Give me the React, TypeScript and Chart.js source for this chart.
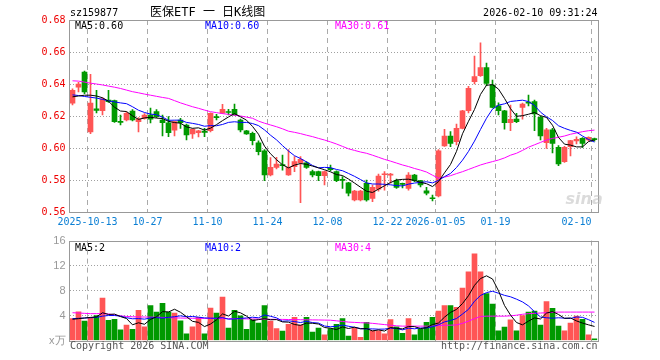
import React, { useEffect, useRef } from "react";
import { Chart, registerables } from "chart.js";
Chart.register(...registerables);

const DATES = [
  "2025-09-30","2025-10-09","2025-10-10","2025-10-13","2025-10-14","2025-10-15","2025-10-16","2025-10-17","2025-10-20","2025-10-21",
  "2025-10-22","2025-10-23","2025-10-24","2025-10-27","2025-10-28","2025-10-29","2025-10-30","2025-10-31","2025-11-03","2025-11-04",
  "2025-11-05","2025-11-06","2025-11-07","2025-11-10","2025-11-11","2025-11-12","2025-11-13","2025-11-14","2025-11-17","2025-11-18",
  "2025-11-19","2025-11-20","2025-11-21","2025-11-24","2025-11-25","2025-11-26","2025-11-27","2025-11-28","2025-12-01","2025-12-02",
  "2025-12-03","2025-12-04","2025-12-05","2025-12-08","2025-12-09","2025-12-10","2025-12-11","2025-12-12","2025-12-15","2025-12-16",
  "2025-12-17","2025-12-18","2025-12-19","2025-12-22","2025-12-23","2025-12-24","2025-12-25","2025-12-26","2025-12-29","2025-12-30",
  "2025-12-31","2026-01-05","2026-01-06","2026-01-07","2026-01-08","2026-01-09","2026-01-12","2026-01-13","2026-01-14","2026-01-15",
  "2026-01-16","2026-01-19","2026-01-20","2026-01-21","2026-01-22","2026-01-23","2026-01-26","2026-01-27","2026-01-28","2026-01-29",
  "2026-01-30","2026-02-02","2026-02-03","2026-02-04","2026-02-05","2026-02-06","2026-02-09","2026-02-10"
];

const TICK_DATES = ["2025-10-13","2025-10-27","2025-11-10","2025-11-24","2025-12-08","2025-12-22","2026-01-05","2026-01-19","2026-02-10"];
const TICK_TEXT = ["2025-10-13","10-27","11-10","11-24","12-08","12-22","2026-01-05","01-19","02-10"];
const PRICE_TICKS = [0.56, 0.58, 0.60, 0.62, 0.64, 0.66, 0.68];
const VOL_TICKS = [0, 4, 8, 12, 16];

const OPEN = [0.628,0.638,0.6475,0.610,0.6245,0.6233,0.630,0.6296,0.6163,0.6175,
0.623,0.6165,0.6185,0.6206,0.6227,0.6175,0.6158,0.6112,0.6175,0.6144,
0.6088,0.6096,0.6105,0.6108,0.6195,0.6217,0.6225,0.6242,0.6175,0.6108,
0.6092,0.6033,0.5983,0.5831,0.5879,0.5895,0.5831,0.5883,0.5908,0.5908,
0.5852,0.5852,0.5827,0.5873,0.5852,0.5802,0.5783,0.5675,0.5675,0.5779,
0.5685,0.5742,0.5833,0.583,0.5796,0.5777,0.5748,0.5831,0.5796,0.5733,
0.5687,0.570,0.6013,0.6075,0.604,0.6123,0.6233,0.6415,0.6452,0.6502,
0.6394,0.6263,0.6233,0.6158,0.618,0.6254,0.6285,0.629,0.6192,0.6033,
0.6113,0.6004,0.5915,0.6008,0.6044,0.606,0.605,0.6056];

const HIGH = [0.637,0.641,0.648,0.646,0.636,0.6314,0.636,0.630,0.6206,0.6225,
0.624,0.619,0.6215,0.625,0.624,0.6206,0.6196,0.6168,0.6186,0.615,
0.612,0.611,0.6123,0.622,0.621,0.6273,0.6242,0.6275,0.618,0.611,
0.610,0.6045,0.599,0.594,0.5942,0.5956,0.599,0.5946,0.5946,0.5915,
0.5862,0.5856,0.5856,0.5893,0.5858,0.5821,0.5786,0.5735,0.5735,0.580,
0.5769,0.5837,0.5852,0.5842,0.5805,0.578,0.5846,0.5835,0.5798,0.5754,
0.5706,0.599,0.6117,0.6102,0.615,0.6235,0.6385,0.6575,0.6658,0.653,
0.6425,0.6283,0.6235,0.6269,0.6217,0.628,0.6331,0.630,0.620,0.6123,
0.6123,0.6015,0.601,0.6048,0.607,0.6065,0.607,0.6062];

const LOW = [0.627,0.635,0.634,0.609,0.622,0.6206,0.6285,0.616,0.6144,0.617,
0.617,0.610,0.618,0.6156,0.619,0.6075,0.6071,0.6075,0.6123,0.605,
0.606,0.607,0.6071,0.610,0.6175,0.6215,0.6206,0.6205,0.610,0.6085,
0.602,0.5956,0.5796,0.5825,0.587,0.5862,0.5828,0.5852,0.5658,0.5873,
0.5819,0.5796,0.5769,0.5856,0.579,0.5748,0.570,0.567,0.567,0.5668,
0.5665,0.573,0.5737,0.578,0.5748,0.575,0.5737,0.579,0.5756,0.5706,
0.5669,0.5695,0.601,0.6008,0.6019,0.612,0.622,0.640,0.6448,0.639,
0.625,0.6206,0.6117,0.6108,0.6158,0.618,0.6263,0.6108,0.605,0.5998,
0.597,0.589,0.591,0.595,0.6025,0.6004,0.6045,0.6043];

const CLOSE = [0.636,0.640,0.635,0.628,0.6235,0.6306,0.629,0.6165,0.616,0.6217,
0.6175,0.618,0.6206,0.618,0.6196,0.6158,0.6096,0.6165,0.6158,0.6081,
0.6117,0.6108,0.6097,0.6217,0.619,0.6242,0.6222,0.6206,0.6113,0.6088,
0.6046,0.5977,0.5831,0.5879,0.590,0.589,0.5879,0.5915,0.5929,0.5879,
0.5831,0.5827,0.5852,0.5865,0.5796,0.5798,0.5717,0.5731,0.5731,0.5675,
0.5754,0.5825,0.5836,0.5832,0.5754,0.5773,0.5831,0.5796,0.5769,0.5717,
0.5683,0.5983,0.6075,0.6029,0.6123,0.6233,0.6373,0.6446,0.6502,0.6404,
0.6254,0.6233,0.6158,0.6179,0.6165,0.6275,0.628,0.6213,0.6075,0.6113,
0.6029,0.590,0.6004,0.6046,0.6054,0.6029,0.6067,0.6052];

const MA5 = [0.632,0.6325,0.633,0.633,0.6325,0.6314,0.6292,0.6255,0.6231,0.6228,
0.6201,0.6179,0.6188,0.6192,0.6187,0.6184,0.6167,0.6159,0.6155,0.6132,
0.6123,0.6126,0.6112,0.6124,0.6146,0.6171,0.6194,0.6215,0.6195,0.6174,
0.6135,0.6086,0.6011,0.5964,0.5927,0.5895,0.5876,0.5893,0.5903,0.5898,
0.5887,0.5876,0.5864,0.5851,0.5834,0.5828,0.5806,0.5781,0.5755,0.5730,
0.5722,0.5743,0.5764,0.5784,0.5800,0.5804,0.5805,0.5797,0.5785,0.5777,
0.5759,0.5790,0.5845,0.5897,0.5979,0.6089,0.6167,0.6241,0.6335,0.6392,
0.6396,0.6368,0.6310,0.6246,0.6198,0.6202,0.6211,0.6222,0.6202,0.6191,
0.6142,0.6066,0.6024,0.6018,0.6007,0.6007,0.6040,0.6050];

const MA10 = [0.6332,0.6328,0.6322,0.6317,0.6312,0.6304,0.6295,0.6288,0.6282,0.6277,
0.6258,0.6236,0.6222,0.6212,0.6208,0.6193,0.6173,0.6174,0.6174,0.6160,
0.6154,0.6147,0.6136,0.6140,0.6139,0.6147,0.6160,0.6164,0.6160,0.6160,
0.6153,0.6140,0.6113,0.6080,0.6051,0.6015,0.5981,0.5952,0.5934,0.5913,
0.5891,0.5876,0.5879,0.5877,0.5866,0.5858,0.5841,0.5823,0.5803,0.5782,
0.5775,0.5775,0.5773,0.5770,0.5765,0.5763,0.5774,0.5781,0.5785,0.5789,
0.5782,0.5798,0.5821,0.5841,0.5878,0.5924,0.5979,0.6043,0.6116,0.6186,
0.6243,0.6268,0.6276,0.6291,0.6295,0.6299,0.6290,0.6266,0.6224,0.6195,
0.6172,0.6139,0.6123,0.6110,0.6099,0.6075,0.6053,0.6037];

const MA30 = [0.6420,0.6418,0.6412,0.6405,0.6400,0.6394,0.6387,0.6380,0.6372,0.6362,
0.6352,0.6345,0.6337,0.6330,0.6323,0.6316,0.6310,0.6296,0.6282,0.6270,
0.6258,0.6248,0.6237,0.6227,0.6221,0.6215,0.6210,0.6205,0.6200,0.6193,
0.6186,0.6168,0.6155,0.6144,0.6133,0.6120,0.6105,0.6098,0.6090,0.6080,
0.6071,0.6060,0.6050,0.6038,0.6025,0.6010,0.5995,0.5985,0.5975,0.5967,
0.5955,0.5942,0.5929,0.5918,0.5906,0.5894,0.5884,0.5872,0.5862,0.5850,
0.5830,0.5811,0.5818,0.5827,0.5840,0.5852,0.5866,0.5880,0.5894,0.5905,
0.5915,0.5925,0.5938,0.5955,0.5967,0.5985,0.6005,0.6020,0.6035,0.6050,
0.6060,0.6067,0.6075,0.6086,0.6094,0.6102,0.6108,0.6112];

const VOLUME = [3.5,4.6,3.1,3.7,4.0,6.8,3.25,3.4,1.7,2.45,
1.8,4.85,2.2,5.6,4.55,5.95,4.55,4.4,3.15,1.05,
2.2,3.7,1.05,5.2,4.4,6.95,2.0,4.85,3.95,1.8,
3.35,2.8,5.6,3.1,1.9,1.5,2.6,3.7,2.45,3.7,
1.35,2.0,0.9,1.9,2.6,3.5,0.7,2.0,0.5,2.9,
1.55,1.55,1.05,3.35,2.2,1.15,3.5,0.9,1.8,2.9,
3.7,4.7,5.6,5.6,5.3,8.4,11.0,13.9,11.0,7.5,
5.85,1.55,2.15,3.3,1.55,4.0,4.55,4.7,2.45,6.25,
5.15,2.3,1.55,2.8,3.9,3.4,0.9,0.25];

const VMA5 = [3.4,3.5,3.6,3.7,3.78,4.44,4.17,4.23,3.83,3.52,
2.52,2.84,2.60,3.38,3.80,4.63,4.57,5.01,4.52,3.82,
3.07,2.90,2.23,2.64,3.31,4.26,3.92,4.68,4.43,3.91,
3.19,3.35,3.50,3.33,3.35,2.98,2.94,2.56,2.43,2.79,
2.76,2.64,2.08,1.97,1.75,2.18,1.92,2.14,1.86,1.92,
1.53,1.70,1.51,2.08,1.94,1.86,2.25,2.22,1.91,2.05,
2.56,2.80,3.74,4.50,4.98,5.92,7.18,8.84,9.92,10.36,
9.85,7.96,5.61,4.07,2.88,2.51,3.11,3.62,3.45,4.39,
4.62,4.17,3.54,3.61,3.14,2.79,2.51,2.25];

const VMA10 = [3.5,3.55,3.6,3.65,3.7,3.9,4.0,4.0,3.9,3.65,
3.48,3.51,3.42,3.61,3.66,3.58,3.71,3.81,3.95,3.81,
3.85,3.74,3.62,3.58,3.57,3.67,3.41,3.46,3.54,3.61,
3.73,3.64,4.09,3.88,3.63,3.09,3.15,3.03,2.88,3.07,
2.87,2.79,2.32,2.20,2.27,2.47,2.28,2.11,1.92,1.84,
1.86,1.81,1.83,1.97,1.93,1.70,1.98,1.87,2.00,2.00,
2.21,2.53,2.98,3.21,3.52,4.24,4.99,6.29,7.21,7.67,
7.89,7.57,7.23,7.00,6.62,6.18,5.54,4.62,3.76,3.64,
3.57,3.64,3.58,3.53,3.77,3.71,3.34,2.90];

const VMA30 = [4.45,4.4,4.35,4.3,4.3,4.3,4.25,4.1,3.95,3.85,
3.8,3.78,3.76,3.75,3.72,3.7,3.65,3.62,3.6,3.58,
3.56,3.55,3.54,3.53,3.52,3.51,3.5,3.5,3.48,3.46,
3.45,3.44,3.42,3.4,3.39,3.38,3.36,3.35,3.33,3.32,
3.3,3.29,3.27,3.25,3.15,3.05,2.95,2.9,2.85,2.82,
2.75,2.65,2.55,2.45,2.35,2.3,2.3,2.3,2.3,2.3,
2.3,2.4,2.45,2.45,2.5,2.75,3.1,3.5,3.85,3.9,
3.9,3.9,3.9,3.95,4.05,4.2,4.3,4.35,4.4,4.45,
4.5,4.55,4.55,4.55,4.55,4.55,4.55,4.55];

const UP = "#ff5555";
const DOWN = "#009900";
const MONO = "'DejaVu Sans Mono', 'Liberation Mono', monospace";
const CLEAR = "rgba(0,0,0,0)";

const candleColors = CLOSE.map((c, i) => (c >= OPEN[i] ? UP : DOWN));

const xGridColor = (ctx: any) => {
  const d = DATES[ctx.index];
  return d && TICK_DATES.includes(d) ? "#aaaaaa" : CLEAR;
};

const framePlugin = {
  id: "frame",
  afterDraw(chart: any) {
    const { left, top, right, bottom } = chart.chartArea;
    const ctx = chart.ctx;
    ctx.save();
    ctx.strokeStyle = "#999999";
    ctx.lineWidth = 1;
    const l = Math.floor(left) + 0.5;
    const r = Math.round(right) + 0.5;
    const t = Math.round(top) + 0.5;
    const b = Math.round(bottom) + 0.5;
    ctx.strokeRect(l, t, r - l, b - t);
    ctx.restore();
  },
};

type TextItem = { text: string; x: (a: any) => number; y: (a: any) => number; font: string; color: string; align?: CanvasTextAlign };

const textPlugin = (id: string, items: TextItem[]) => ({
  id,
  afterDraw(chart: any) {
    const ctx = chart.ctx;
    const a = chart.chartArea;
    ctx.save();
    ctx.textBaseline = "alphabetic";
    for (const t of items) {
      ctx.font = t.font;
      ctx.fillStyle = t.color;
      ctx.textAlign = t.align || "left";
      ctx.fillText(t.text, t.x(a), t.y(a));
    }
    ctx.restore();
  },
});

const xScale = (showLabels: boolean, height: number) => ({
  type: "category" as const,
  offset: true,
  grid: { offset: true, color: xGridColor, drawTicks: false, lineWidth: 1 },
  border: { display: false, dash: [5, 4] },
  ticks: {
    display: showLabels,
    autoSkip: false,
    maxRotation: 0,
    minRotation: 0,
    labelOffset: -3,
    padding: 4,
    color: "#0b7fd4",
    font: { family: MONO, size: 10 },
    callback: (_v: any, i: number) => {
      const k = TICK_DATES.indexOf(DATES[i]);
      if (k < 0) return "";
      const s = TICK_TEXT[k];
      return k === TICK_DATES.length - 1 ? s + " ".repeat(s.length) : s;
    },
  },
  afterFit: (s: any) => {
    s.height = height;
  },
});

export default function App() {
  const priceRef = useRef<HTMLCanvasElement>(null);
  const volRef = useRef<HTMLCanvasElement>(null);

  useEffect(() => {
    const priceTexts = textPlugin("priceTexts", [
      { text: "sz159877", x: (a) => a.left + 0.5, y: () => 16, font: `10px ${MONO}`, color: "#000" },
      { text: "医保ETF 一 日K线图", x: () => 150, y: () => 16, font: `12px ${MONO}, 'Noto Sans CJK SC'`, color: "#000" },
      { text: "2026-02-10 09:31:24", x: (a) => a.right, y: () => 16, font: `10px ${MONO}`, color: "#000", align: "right" },
      { text: "MA5:0.60", x: (a) => a.left + 5.5, y: (a) => a.top + 9, font: `10px ${MONO}`, color: "#000" },
      { text: "MA10:0.60", x: (a) => a.left + 135.5, y: (a) => a.top + 9, font: `10px ${MONO}`, color: "#0000ff" },
      { text: "MA30:0.61", x: (a) => a.left + 265.5, y: (a) => a.top + 9, font: `10px ${MONO}`, color: "#ff00ff" },
      { text: "sina", x: (a) => a.right - 32, y: (a) => a.bottom - 8, font: "italic bold 16px 'DejaVu Sans'", color: "rgba(190,190,190,0.55)" },
    ]);

    const volTexts = textPlugin("volTexts", [
      { text: "MA5:2", x: (a) => a.left + 5.5, y: (a) => a.top + 10.5, font: `10px ${MONO}`, color: "#000" },
      { text: "MA10:2", x: (a) => a.left + 135.5, y: (a) => a.top + 10.5, font: `10px ${MONO}`, color: "#0000ff" },
      { text: "MA30:4", x: (a) => a.left + 265.5, y: (a) => a.top + 10.5, font: `10px ${MONO}`, color: "#ff00ff" },
      { text: "Copyright 2026 SINA.COM", x: (a) => a.left + 0.5, y: (a) => a.bottom + 8.5, font: `10px ${MONO}`, color: "#555" },
      { text: "http://finance.sina.com.cn", x: (a) => a.right, y: (a) => a.bottom + 8.5, font: `10px ${MONO}`, color: "#555", align: "right" },
    ]);

    const lineDs = (label: string, data: number[], color: string) => ({
      type: "line" as const,
      label,
      data,
      borderColor: color,
      borderWidth: 1,
      pointRadius: 0,
      tension: 0,
      fill: false,
      order: 0,
    });

    const priceChart = new Chart(priceRef.current as HTMLCanvasElement, {
      type: "bar",
      data: {
        labels: DATES,
        datasets: [
          lineDs("MA5", MA5, "#000000"),
          lineDs("MA10", MA10, "#0000ff"),
          lineDs("MA30", MA30, "#ff00ff"),
          {
            type: "bar",
            label: "body",
            data: OPEN.map((o, i) => [o, CLOSE[i]]) as any,
            backgroundColor: candleColors,
            barThickness: 5,
            minBarLength: 1,
            grouped: false,
            order: 1,
          } as any,
          {
            type: "bar",
            label: "wick",
            data: LOW.map((l, i) => [l, HIGH[i]]) as any,
            backgroundColor: candleColors,
            barThickness: 1,
            grouped: false,
            order: 2,
          } as any,
        ],
      },
      options: {
        animation: false,
        responsive: false,
        maintainAspectRatio: false,
        layout: { padding: { top: 20, right: 62.5, left: 0, bottom: 0 } },
        plugins: { legend: { display: false }, tooltip: { enabled: false } },
        scales: {
          x: xScale(true, 18) as any,
          y: {
            min: PRICE_TICKS[0],
            max: PRICE_TICKS[PRICE_TICKS.length - 1],
            ticks: {
              stepSize: 0.02,
              padding: 4,
              color: "#ee0000",
              font: { family: MONO, size: 10 },
              callback: (v: any) => Number(v).toFixed(2),
            },
            grid: {
              drawTicks: false,
              color: (ctx: any) => (ctx.index === 0 || ctx.index === PRICE_TICKS.length - 1 ? CLEAR : "#a0a0a0"),
            },
            border: { display: false, dash: [1, 2] },
            afterFit: (s: any) => {
              s.width = 69.5;
            },
          } as any,
        },
      },
      plugins: [framePlugin, priceTexts],
    });

    const volChart = new Chart(volRef.current as HTMLCanvasElement, {
      type: "bar",
      data: {
        labels: DATES,
        datasets: [
          lineDs("VMA5", VMA5, "#000000"),
          lineDs("VMA10", VMA10, "#0000ff"),
          lineDs("VMA30", VMA30, "#ff00ff"),
          {
            type: "bar",
            label: "volume",
            data: VOLUME,
            backgroundColor: candleColors,
            barThickness: 5,
            grouped: false,
            order: 1,
          } as any,
        ],
      },
      options: {
        animation: false,
        responsive: false,
        maintainAspectRatio: false,
        layout: { padding: { top: 9.5, right: 62.5, left: 0, bottom: 0 } },
        plugins: { legend: { display: false }, tooltip: { enabled: false } },
        scales: {
          x: xScale(false, 19.5) as any,
          y: {
            min: VOL_TICKS[0],
            max: VOL_TICKS[VOL_TICKS.length - 1],
            ticks: {
              stepSize: 4,
              padding: 4,
              color: "#999999",
              font: { family: "'Liberation Sans', Arial, sans-serif", size: 11 },
              callback: (v: any) => (Number(v) === 0 ? "x万" : String(v)),
            },
            grid: {
              drawTicks: false,
              color: (ctx: any) => (ctx.index === 0 || ctx.index === VOL_TICKS.length - 1 ? CLEAR : "#a0a0a0"),
            },
            border: { display: false, dash: [1, 2] },
            afterFit: (s: any) => {
              s.width = 69.5;
            },
          } as any,
        },
      },
      plugins: [framePlugin, volTexts],
    });

    return () => {
      priceChart.destroy();
      volChart.destroy();
    };
  }, []);

  return (
    <div style={{ position: "fixed", left: 0, top: 0, width: 660, height: 360, background: "#fff" }}>
      <canvas ref={priceRef} width={660} height={230} style={{ position: "absolute", left: 0, top: 0, width: 660, height: 230 }} />
      <canvas ref={volRef} width={660} height={130} style={{ position: "absolute", left: 0, top: 230, width: 660, height: 130 }} />
    </div>
  );
}
